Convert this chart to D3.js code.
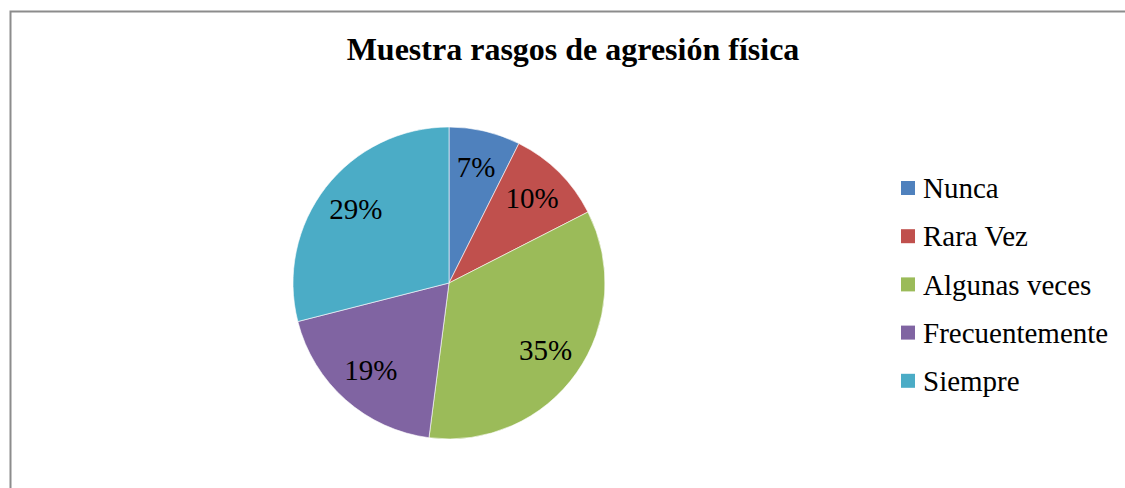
<!DOCTYPE html>
<html>
<head>
<meta charset="utf-8">
<script src="https://cdn.jsdelivr.net/npm/d3@7"></script>
<style>
  body { margin: 0; background: #fff; }
  text { font-family: "Liberation Serif", "Times New Roman", serif; }
</style>
</head>
<body>
<div id="chart"></div>
<script>
// data (share of each answer, in %)
const categories = ["Nunca", "Rara Vez", "Algunas veces", "Frecuentemente", "Siempre"];
const values = [7.4, 10.1, 34.6, 19.0, 29.0];
const colors = ["#4f81bd", "#c0504d", "#9bbb59", "#8064a2", "#4bacc6"];
const title = "Muestra rasgos de agresión física";

const width = 1125, height = 488;
const cx = 449, cy = 283, radius = 156;

const svg = d3.select("#chart")
  .append("svg")
    .attr("width", width)
    .attr("height", height);

// chart frame (only left and top edges fall inside the picture)
svg.append("rect")
    .attr("x", 10.5)
    .attr("y", 11.5)
    .attr("width", width + 20)
    .attr("height", height + 20)
    .attr("fill", "none")
    .attr("stroke", "#8c8c8c")
    .attr("stroke-width", 2);

svg.append("text")
    .attr("x", 573)
    .attr("y", 60)
    .attr("text-anchor", "middle")
    .style("font-size", "32px")
    .style("font-weight", "bold")
    .text(title);

const data = categories.map((c, i) => ({ name: c, value: values[i], color: colors[i] }));
const total = d3.sum(values);

const pie = d3.pie()
    .sort(null)
    .value(d => d.value);

const arc = d3.arc()
    .innerRadius(0)
    .outerRadius(radius);

const labelArc = d3.arc()
    .innerRadius(118)
    .outerRadius(118);

const g = svg.append("g")
    .attr("transform", `translate(${cx},${cy})`);

const slices = pie(data);

g.selectAll("path")
    .data(slices)
    .enter()
    .append("path")
    .attr("d", arc)
    .attr("fill", d => d.data.color)
    .attr("stroke", "#fff")
    .attr("stroke-width", 0.6);

g.selectAll(".lbl")
    .data(slices)
    .enter()
    .append("text")
    .attr("class", "lbl")
    .attr("transform", d => `translate(${labelArc.centroid(d)})`)
    .attr("text-anchor", "middle")
    .attr("dy", "0.3em")
    .style("font-size", "29px")
    .text(d => Math.round(d.data.value / total * 100) + "%");

// legend
const legend = svg.append("g")
    .attr("transform", "translate(901,188)");

const rows = legend.selectAll("g")
    .data(data)
    .enter()
    .append("g")
    .attr("transform", (d, i) => `translate(0,${i * 48.2})`);

rows.append("rect")
    .attr("x", 0)
    .attr("y", -7)
    .attr("width", 14)
    .attr("height", 14)
    .attr("fill", d => d.color);

rows.append("text")
    .attr("x", 22)
    .attr("y", 0)
    .attr("dy", "0.35em")
    .style("font-size", "29px")
    .text(d => d.name);
</script>
</body>
</html>
